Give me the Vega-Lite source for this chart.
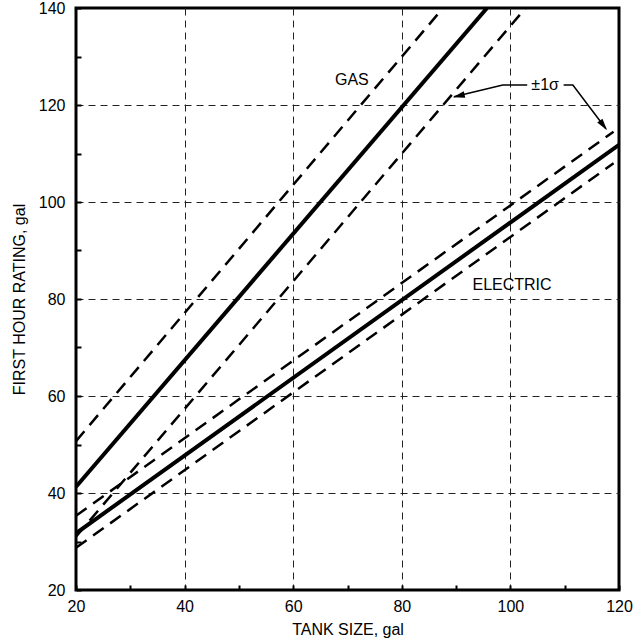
{
  "$schema": "https://vega.github.io/schema/vega-lite/v6.json",
  "width": 543,
  "height": 582,
  "autosize": {"type": "none"},
  "padding": {"left": 76, "top": 8, "right": 16, "bottom": 52},
  "background": "white",
  "config": {
    "view": {"stroke": "black", "strokeWidth": 3},
    "font": "Liberation Sans",
    "axis": {
      "domain": false,
      "labelFont": "Liberation Sans",
      "labelFontSize": 16,
      "labelColor": "black",
      "labelFlush": false,
      "labelOverlap": false,
      "titleFont": "Liberation Sans",
      "titleFontSize": 16,
      "titleFontWeight": "normal",
      "titleColor": "black",
      "tickColor": "black",
      "tickWidth": 2,
      "tickSize": -5,
      "gridColor": "#222",
      "gridWidth": 1,
      "gridDash": [7, 5]
    }
  },
  "datasets": {
    "curves": [
      {"series": "gas_mean", "band": "mean", "x": 20, "y": 41.3},
      {"series": "gas_mean", "band": "mean", "x": 95.7, "y": 140},
      {"series": "gas_hi", "band": "sigma", "x": 20, "y": 50.7},
      {"series": "gas_hi", "band": "sigma", "x": 87.6, "y": 140},
      {"series": "gas_lo", "band": "sigma", "x": 20, "y": 31},
      {"series": "gas_lo", "band": "sigma", "x": 102.8, "y": 140},
      {"series": "elec_mean", "band": "mean", "x": 20, "y": 31.7},
      {"series": "elec_mean", "band": "mean", "x": 120, "y": 111.8},
      {"series": "elec_hi", "band": "sigma", "x": 20, "y": 35.3},
      {"series": "elec_hi", "band": "sigma", "x": 119, "y": 114.5},
      {"series": "elec_lo", "band": "sigma", "x": 20, "y": 28.7},
      {"series": "elec_lo", "band": "sigma", "x": 119, "y": 108}
    ],
    "labels": [
      {"text": "GAS", "x": 70.8, "y": 125.2},
      {"text": "ELECTRIC", "x": 100.3, "y": 82.9},
      {"text": "±1σ", "x": 106.4, "y": 124.1}
    ],
    "arrows": [
      {"arrow": "left", "i": 0, "x": 103.1, "y": 124.1},
      {"arrow": "left", "i": 1, "x": 98.6, "y": 124.1},
      {"arrow": "left", "i": 2, "x": 89.6, "y": 121.7},
      {"arrow": "right", "i": 0, "x": 109.8, "y": 124.1},
      {"arrow": "right", "i": 1, "x": 111.5, "y": 124.1},
      {"arrow": "right", "i": 2, "x": 117.6, "y": 115.1}
    ],
    "heads": [
      {"arrow": "left", "x": 89.4, "y": 121.6},
      {"arrow": "right", "x": 117.8, "y": 114.8}
    ]
  },
  "layer": [
    {
      "data": {"name": "curves"},
      "transform": [{"filter": "datum.band == 'sigma'"}],
      "mark": {"type": "line", "color": "black", "strokeWidth": 2.5, "strokeDash": [13, 8], "clip": true},
      "encoding": {
        "x": {
          "field": "x", "type": "quantitative",
          "scale": {"domain": [20, 120], "nice": false, "zero": false},
          "axis": {
            "title": "TANK SIZE, gal",
            "values": [20, 30, 40, 50, 60, 70, 80, 90, 100, 110, 120],
            "labelExpr": "datum.value % 20 == 0 ? datum.label : ''",
            "labelPadding": 13,
            "titlePadding": 7,
            "gridOpacity": {"condition": {"test": "datum.value % 20 == 0 && datum.value > 20 && datum.value < 120", "value": 1}, "value": 0}
          }
        },
        "y": {
          "field": "y", "type": "quantitative",
          "scale": {"domain": [20, 140], "nice": false, "zero": false},
          "axis": {
            "title": "FIRST HOUR RATING, gal",
            "values": [20, 30, 40, 50, 60, 70, 80, 90, 100, 110, 120, 130, 140],
            "labelExpr": "datum.value % 20 == 0 ? datum.label : ''",
            "labelPadding": 16,
            "titlePadding": 11,
            "gridOpacity": {"condition": {"test": "datum.value % 20 == 0 && datum.value > 20 && datum.value < 140", "value": 1}, "value": 0}
          }
        },
        "detail": {"field": "series"}
      }
    },
    {
      "data": {"name": "curves"},
      "transform": [{"filter": "datum.band == 'mean'"}],
      "mark": {"type": "line", "color": "black", "strokeWidth": 4, "clip": true},
      "encoding": {
        "x": {"field": "x", "type": "quantitative"},
        "y": {"field": "y", "type": "quantitative"},
        "detail": {"field": "series"}
      }
    },
    {
      "data": {"name": "arrows"},
      "mark": {"type": "line", "color": "black", "strokeWidth": 1.5},
      "encoding": {
        "x": {"field": "x", "type": "quantitative"},
        "y": {"field": "y", "type": "quantitative"},
        "detail": {"field": "arrow"},
        "order": {"field": "i"}
      }
    },
    {
      "data": {"name": "heads"},
      "transform": [{"filter": "datum.arrow == 'left'"}],
      "mark": {"type": "point", "filled": true, "color": "black", "opacity": 1, "shape": "M0,0L0.55,2L-0.55,2Z", "size": 144, "angle": 256.5},
      "encoding": {
        "x": {"field": "x", "type": "quantitative"},
        "y": {"field": "y", "type": "quantitative"}
      }
    },
    {
      "data": {"name": "heads"},
      "transform": [{"filter": "datum.arrow == 'right'"}],
      "mark": {"type": "point", "filled": true, "color": "black", "opacity": 1, "shape": "M0,0L0.55,2L-0.55,2Z", "size": 144, "angle": 143},
      "encoding": {
        "x": {"field": "x", "type": "quantitative"},
        "y": {"field": "y", "type": "quantitative"}
      }
    },
    {
      "data": {"name": "labels"},
      "mark": {"type": "text", "fontSize": 16, "font": "Liberation Sans", "color": "black", "align": "center", "baseline": "middle"},
      "encoding": {
        "x": {"field": "x", "type": "quantitative"},
        "y": {"field": "y", "type": "quantitative"},
        "text": {"field": "text"}
      }
    }
  ]
}
